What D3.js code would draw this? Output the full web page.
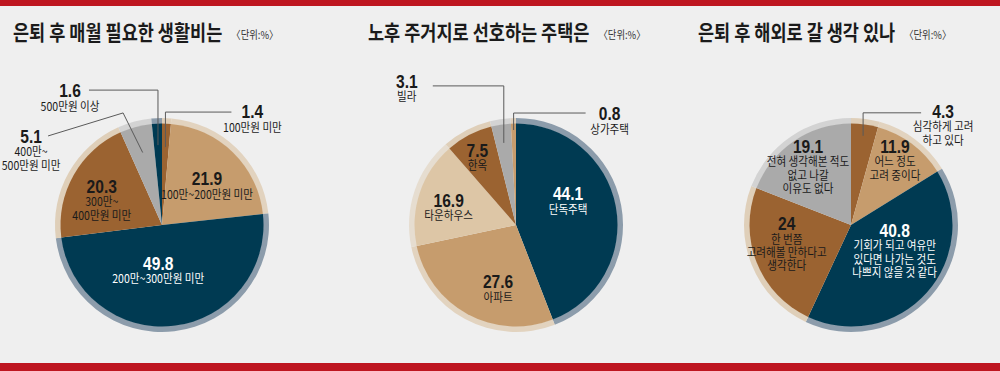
<!DOCTYPE html>
<html>
<head>
<meta charset="utf-8">
<script src="https://d3js.org/d3.v7.min.js"></script>
<style>
  body { margin: 0; background: #efefef; }
  svg { display: block; }
  .title { font-family: "Noto Sans CJK KR", sans-serif; font-weight: 700; font-size: 21px; fill: #1b1b1b; }
  .unit { font-family: "Noto Sans CJK KR", sans-serif; font-size: 11px; fill: #333; }
  .num { font-family: "Liberation Sans", Arial, sans-serif; font-weight: 700; font-size: 19px; }
  .sub { font-family: "Noto Sans CJK KR", sans-serif; font-size: 12px; }
  .leader { fill: none; stroke: #5a5a5a; stroke-width: 1; }
</style>
</head>
<body>
<svg id="chart"></svg>
<script>
// 은퇴 후 매월 필요한 생활비는
const spendCategories = ['100만원 미만', '100만~200만원 미만', '200만~300만원 미만', '300만~\n400만원 미만', '400만~\n500만원 미만', '500만원 이상'];
const spendValues = [1.4, 21.9, 49.8, 20.3, 5.1, 1.6];
const spendTones = ['brown', 'tan', 'navy', 'brown', 'gray', 'navy'];

// 노후 주거지로 선호하는 주택은
const houseCategories = ['단독주택', '아파트', '타운하우스', '한옥', '빌라', '상가주택'];
const houseValues = [44.1, 27.6, 16.9, 7.5, 3.1, 0.8];
const houseTones = ['navy', 'tan', 'beige', 'brown', 'gray', 'tan'];

// 은퇴 후 해외로 갈 생각 있나
const abroadCategories = ['심각하게 고려\n하고 있다', '어느 정도\n고려 중이다', '기회가 되고 여유만\n있다면 나가는 것도\n나쁘지 않을 것 같다', '한 번쯤\n고려해볼 만하다고\n생각한다', '전혀 생각해본 적도\n없고 나갈\n이유도 없다'];
const abroadValues = [4.3, 11.9, 40.8, 24, 19.1];
const abroadTones = ['brown', 'tan', 'navy', 'brown', 'gray'];

const titles = ['은퇴 후 매월 필요한 생활비는', '노후 주거지로 선호하는 주택은', '은퇴 후 해외로 갈 생각 있나'];
const unitLabel = '〈단위:%〉';

const fills = {navy: '#003a52', tan: '#c69c6d', brown: '#9b6331', gray: '#aaaaaa', beige: '#ddc6a6'};
const rims = {navy: '#8c9cab', tan: '#e2d3bf', brown: '#dfcfb9', gray: '#d3d3d3', beige: '#e6ddd0'};

// label layout: inside -> radius + nudge, outside -> anchor radius + leader steps + text offset
const spendLayout = [
    {out: true, r: 78, steps: [[0, -35], [66, 0]], text: [21, 6]},
    {r: 60, nudge: [3, 3]},
    {r: 45, nudge: [-9, 0]},
    {r: 68, nudge: [-1, 1]},
    {out: true, r: 75, steps: [[-19.6, -39.6], [-75, 23]], text: [-17, 7]},
    {out: true, r: 80, steps: [[0, -55], [-69, 0]], text: [-19, 7]}
];
const houseLayout = [
    {r: 53, nudge: [0, -15]},
    {r: 65, nudge: [13, 6]},
    {r: 70, nudge: [-1, 4]},
    {r: 77, nudge: [-3, 0]},
    {out: true, r: 83, steps: [[0, -57], [-71, 0]], text: [-26, 2]},
    {out: true, r: 95, steps: [[0, -17], [72, 0]], text: [24, 7]}
];
const abroadLayout = [
    {out: true, r: 90, steps: [[0, -23], [58, 0]], text: [22, 5]},
    {r: 85, nudge: [-7, -4]},
    {r: 45, nudge: [10, -18]},
    {r: 65, nudge: [-4, -19]},
    {r: 85, nudge: [5, -2]}
];

const width = 1000, height = 371;
const pieR = 101.5, rimR = 107, cy = 225;

const charts = [
    {cx: 162, titleX: 13, cats: spendCategories, values: spendValues, tones: spendTones, layout: spendLayout},
    {cx: 516, titleX: 368, cats: houseCategories, values: houseValues, tones: houseTones, layout: houseLayout},
    {cx: 851, titleX: 698, cats: abroadCategories, values: abroadValues, tones: abroadTones, layout: abroadLayout}
];

const svg = d3.select('#chart')
    .attr('width', width)
    .attr('height', height);

svg.append('rect').attr('width', width).attr('height', height).attr('fill', '#efefef');
svg.append('rect').attr('width', width).attr('height', 6).attr('fill', '#be1620');
svg.append('rect').attr('y', 363).attr('width', width).attr('height', 8).attr('fill', '#be1620');

function squeezed(g, x, y, str, cls, sx, anchor) {
    return g.append('text')
        .attr('class', cls)
        .attr('text-anchor', anchor || 'middle')
        .attr('transform', `translate(${x},${y}) scale(${sx},1)`)
        .text(str);
}

const pie = d3.pie().sort(null).value(d => d.value);
const slice = d3.arc().innerRadius(0).outerRadius(pieR);
const rim = d3.arc().innerRadius(pieR - 0.5).outerRadius(rimR);

charts.forEach(function (chart, ci) {
    let g = svg.append('g');

    let title = squeezed(g, chart.titleX, 40, titles[ci], 'title', 0.835, 'start');
    let titleW = title.node().getComputedTextLength() * 0.835;
    squeezed(g, chart.titleX + titleW + 9, 39, unitLabel, 'unit', 0.85, 'start');

    let rows = chart.values.map((v, i) => ({value: v, cat: chart.cats[i], tone: chart.tones[i], lay: chart.layout[i]}));
    let arcs = pie(rows);

    let pg = g.append('g').attr('transform', `translate(${chart.cx},${cy})`);

    pg.selectAll('path.rim')
        .data(arcs)
        .join('path')
        .attr('class', 'rim')
        .attr('d', rim)
        .attr('fill', d => rims[d.data.tone]);

    pg.selectAll('path.slice')
        .data(arcs)
        .join('path')
        .attr('class', 'slice')
        .attr('d', slice)
        .attr('fill', d => fills[d.data.tone]);

    arcs.forEach(function (d) {
        let lay = d.data.lay;
        let at = d3.arc().innerRadius(lay.r).outerRadius(lay.r).centroid(d);
        let x, y;
        if (lay.out) {
            let pts = [at];
            lay.steps.forEach(s => {
                let last = pts[pts.length - 1];
                pts.push([last[0] + s[0], last[1] + s[1]]);
            });
            pg.append('path')
                .attr('class', 'leader')
                .attr('d', d3.line()(pts));
            let end = pts[pts.length - 1];
            x = end[0] + lay.text[0];
            y = end[1] + lay.text[1];
        } else {
            x = at[0] + lay.nudge[0];
            y = at[1] + lay.nudge[1];
        }
        let colour = (!lay.out && d.data.tone === 'navy') ? '#ffffff' : '#1a1a1a';
        squeezed(pg, x, y, String(d.data.value), 'num', 0.82).attr('fill', colour);
        d.data.cat.split('\n').forEach(function (line, li) {
            squeezed(pg, x, y + 13.5 + li * 13.4, line, 'sub', 0.88).attr('fill', colour);
        });
    });
});
</script>
</body>
</html>
